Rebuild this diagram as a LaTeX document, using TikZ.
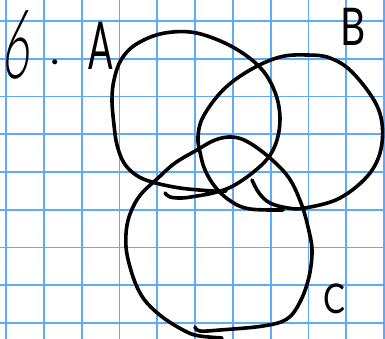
\documentclass[tikz,border=0pt]{standalone}
\usepackage{fontspec}
\newfontfamily\handfont{Lato}
\newfontfamily\thinhand{Lato Light}
\definecolor{GridBlue}{RGB}{95,170,250}
\definecolor{InkBlack}{HTML}{000000}

\begin{document}
\begin{tikzpicture}[x=1pt, y=-1pt,
    gridline/.style={draw=GridBlue, line width=1.8pt},
    venn/.style={draw=InkBlack, line width=3.6pt, line cap=round, line join=round},
    handtext/.style={inner sep=0pt, text=InkBlack}]
    \useasboundingbox (0,0) rectangle (385,339);
    \fill[white] (0,0) rectangle (385,339);

    % Grid
    \foreach \i in {0,...,10}
        \draw[gridline] ({6+37.8*\i},0) -- ({6+37.8*\i},339);
    \foreach \j in {0,...,8}
        \draw[gridline] (0,{21+37.75*\j}) -- (385,{21+37.75*\j});

    % Labels
    \node[handtext, font={\thinhand\fontsize{96}{96}\selectfont}, xscale=0.5, xslant=0.22, transform shape] (six) at (19,45) {6};
    \node[handtext, font={\handfont\fontsize{40}{40}\selectfont}] (dot) at (55,62) {.};
    \node[handtext, font={\handfont\fontsize{66}{66}\selectfont}, xscale=0.55, transform shape] (setA) at (101,46) {A};
    \node[handtext, font={\handfont\fontsize{52}{52}\selectfont}, xscale=0.75, transform shape] (setB) at (353,27) {B};
    \node[handtext, font={\handfont\fontsize{41}{41}\selectfont}, xscale=0.8, transform shape] (setC) at (334,299) {C};

    % Circles
    \draw[venn] plot[smooth, tension=0.6] coordinates {(165,193) (170,197) (182,198) (197,196) (213,193) (231,187) (251,174) (268,158) (277,140) (280,118) (276,95) (264,72) (244,54) (218,40) (190,32) (160,34) (135,45) (121,60) (114,80) (112,100) (114,125) (117,145) (124,163) (136,175) (152,182) (180,188) (213,191) (226,191)};
    \draw[venn] plot[smooth, tension=0.6] coordinates {(252,180) (259,193) (270,203) (288,208) (305,208) (340,198) (370,173) (382,143) (378,108) (353,73) (330,58) (307,55) (280,57) (250,70) (223,90) (203,117) (198,137) (200,152) (205,170) (216,188) (232,202) (250,209) (283,210)};
    \draw[venn] plot[smooth, tension=0.6] coordinates {(195,327) (200,331) (220,330) (263,326) (287,319) (300,302) (309,277) (312,250) (308,227) (301,203) (289,178) (270,158) (248,142) (232,137) (215,140) (197,150) (175,163) (157,179) (142,193) (133,207) (127,225) (126,247) (130,267) (137,287) (147,303) (165,319) (187,332) (200,336) (222,338)};
\end{tikzpicture}
\end{document}
